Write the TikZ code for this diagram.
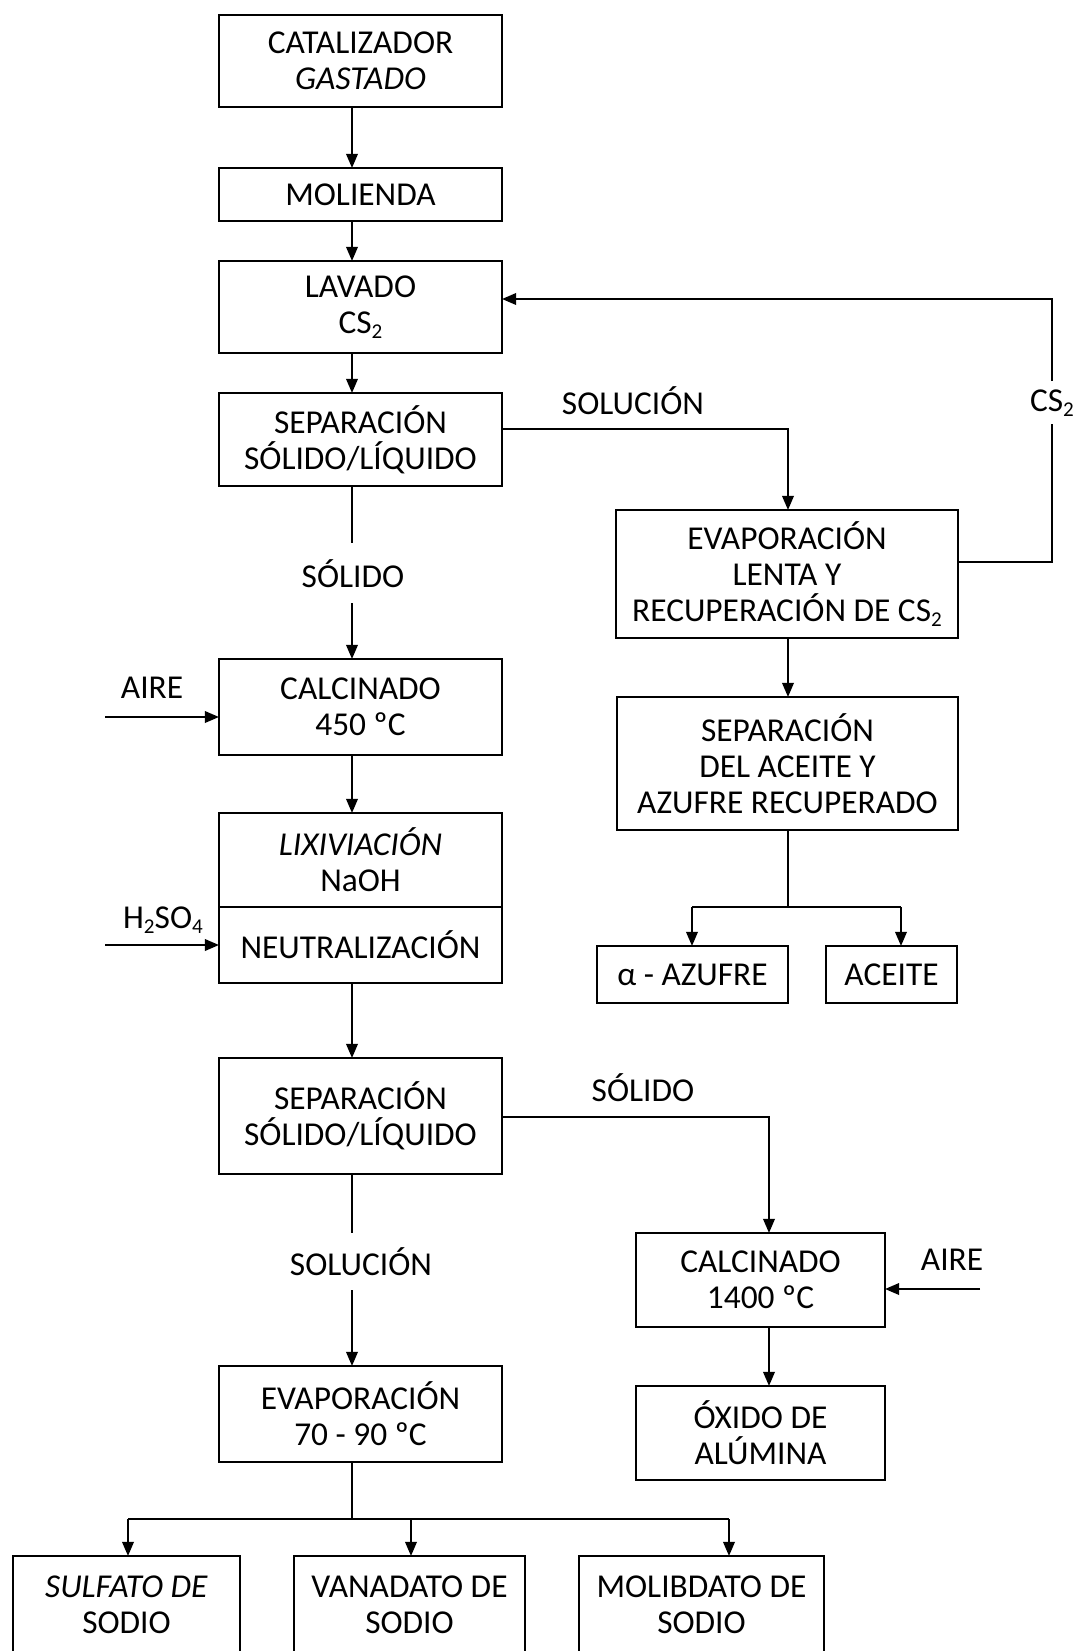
\documentclass[tikz,border=0pt]{standalone}
\usepackage{fontspec}
\setmainfont{Carlito}
\usetikzlibrary{arrows.meta}
% small lowered index for chemical formulas
\newcommand\lowsub[1]{\raisebox{-0.35ex}{\fontsize{12}{12}\selectfont #1}}

\begin{document}
\begin{tikzpicture}[x=0.02cm, y=-0.02cm,
  font=\fontsize{19}{20.5}\selectfont,
  box/.style 2 args={draw, line width=1.4pt, inner sep=0pt, outer sep=0pt,
    align=center, minimum width=#1*0.02cm, minimum height=#2*0.02cm},
  flow/.style={line width=1.2pt, -{Triangle[length=8pt,width=6.5pt]}},
  link/.style={line width=1.2pt},
  lbl/.style={inner sep=0pt, align=center}]

\useasboundingbox (0,0) rectangle (1076,1651);
\clip (0,0) rectangle (1076,1651);

% ---------- main column ----------
\node[box={283}{92}]  (cat)  at (360.5,61)   {CATALIZADOR\\\textit{GASTADO}};
\node[box={283}{53}]  (mol)  at (360.5,194.5) {MOLIENDA};
\node[box={283}{92}]  (lav)  at (360.5,307)  {LAVADO\\CS\lowsub{2}};
\node[box={283}{93}]  (sep1) at (360.5,439.5) {SEPARACIÓN\\SÓLIDO/LÍQUIDO};
\node[box={283}{96}]  (cal1) at (360.5,707)  {CALCINADO\\450 ºC};
\node[box={283}{94}]  (lixa) at (360.5,860)  {\textit{LIXIVIACIÓN}\\NaOH};
\node[box={283}{76}]  (lixb) at (360.5,945)  {NEUTRALIZACIÓN};
\node[box={283}{116}] (sep2) at (360.5,1116) {SEPARACIÓN\\SÓLIDO/LÍQUIDO};
\node[box={283}{96}]  (evp)  at (360.5,1414) {EVAPORACIÓN\\70 - 90 ºC};

% ---------- right column ----------
\node[box={342}{128}] (evl)   at (787,574)    {EVAPORACIÓN\\LENTA Y\\RECUPERACIÓN DE CS\lowsub{2}};
\node[box={341}{133}] (sepac) at (787.5,763.5) {SEPARACIÓN\\DEL ACEITE Y\\AZUFRE RECUPERADO};
\node[box={191}{57}]  (az)    at (692.5,974.5) {α - AZUFRE};
\node[box={131}{57}]  (ace)   at (891.5,974.5) {ACEITE};
\node[box={249}{94}]  (cal2)  at (760.5,1280)  {CALCINADO\\1400 ºC};
\node[box={249}{94}]  (oxi)   at (760.5,1433)  {ÓXIDO DE\\ALÚMINA};

% ---------- products ----------
\node[box={227}{98}] (sul)  at (126.5,1605) {\textit{SULFATO DE}\\SODIO};
\node[box={231}{98}] (van)  at (409.5,1605) {VANADATO DE\\SODIO};
\node[box={245}{98}] (molb) at (701.5,1605) {MOLIBDATO DE\\SODIO};

% ---------- stream labels ----------
\node[lbl] (lsol1) at (633,401)   {SOLUCIÓN};
\node[lbl] (lcs2)  at (1052,403)  {CS\lowsub{2}};
\node[lbl] (lsoa)  at (353,574)   {SÓLIDO};
\node[lbl] (lair1) at (152,688)   {AIRE};
\node[lbl] (lacid) at (163,920)   {H\lowsub{2}SO\lowsub{4}};
\node[lbl] (lsob)  at (643,1088)  {SÓLIDO};
\node[lbl] (lair2) at (952,1260)  {AIRE};
\node[lbl] (lsol2) at (361,1262)  {SOLUCIÓN};

% ---------- routing points ----------
\coordinate (sp)    at (352,0);
\coordinate (g1a)   at (352,543);
\coordinate (g1b)   at (352,603);
\coordinate (solR)  at (788,429);
\coordinate (loopR) at (1052,562);
\coordinate (cslo)  at (1052,424);
\coordinate (cshi)  at (1052,381);
\coordinate (loopT) at (1052,299);
\coordinate (fk1)   at (788,907);
\coordinate (fk1L)  at (692,907);
\coordinate (fk1R)  at (901,907);
\coordinate (air1)  at (105,717);
\coordinate (acid)  at (105,945);
\coordinate (sol2R) at (769,1117);
\coordinate (air2)  at (980,1289);
\coordinate (g2a)   at (352,1233);
\coordinate (g2b)   at (352,1290);
\coordinate (fk2)   at (352,1519);
\coordinate (fk2L)  at (128,1519);
\coordinate (fk2M)  at (411,1519);
\coordinate (fk2R)  at (729,1519);

% ---------- connectors ----------
\draw[flow] (cat.south -| sp) -- (mol.north -| sp);
\draw[flow] (mol.south -| sp) -- (lav.north -| sp);
\draw[flow] (lav.south -| sp) -- (sep1.north -| sp);

\draw[flow] (sep1.east |- solR) -- (solR) -- (evl.north -| solR);
\draw[link] (evl.east |- loopR) -- (loopR) -- (cslo);
\draw[flow] (cshi) -- (loopT) -- (lav.east |- loopT);

\draw[flow] (evl.south -| solR) -- (sepac.north -| solR);
\draw[link] (sepac.south -| fk1) -- (fk1);
\draw[link] (fk1L) -- (fk1R);
\draw[flow] (fk1L) -- (az.north -| fk1L);
\draw[flow] (fk1R) -- (ace.north -| fk1R);

\draw[link] (sep1.south -| sp) -- (g1a);
\draw[flow] (g1b) -- (cal1.north -| sp);
\draw[flow] (air1) -- (cal1.west |- air1);
\draw[flow] (cal1.south -| sp) -- (lixa.north -| sp);
\draw[flow] (acid) -- (lixb.west |- acid);
\draw[flow] (lixb.south -| sp) -- (sep2.north -| sp);

\draw[flow] (sep2.east |- sol2R) -- (sol2R) -- (cal2.north -| sol2R);
\draw[flow] (air2) -- (cal2.east |- air2);
\draw[flow] (cal2.south -| sol2R) -- (oxi.north -| sol2R);

\draw[link] (sep2.south -| sp) -- (g2a);
\draw[flow] (g2b) -- (evp.north -| sp);
\draw[link] (evp.south -| fk2) -- (fk2);
\draw[link] (fk2L) -- (fk2R);
\draw[flow] (fk2L) -- (sul.north -| fk2L);
\draw[flow] (fk2M) -- (van.north -| fk2M);
\draw[flow] (fk2R) -- (molb.north -| fk2R);
\end{tikzpicture}
\end{document}
